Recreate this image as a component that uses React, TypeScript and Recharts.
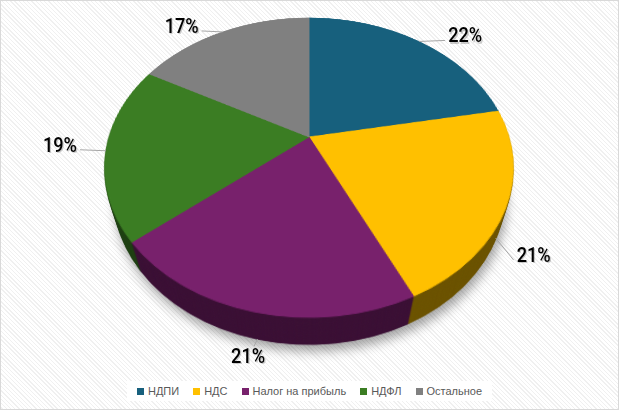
import { PieChart, Pie, Cell, Legend } from "recharts"

const categories = ["НДПИ", "НДС", "Налог на прибыль", "НДФЛ", "Остальное"]
const shares = [22, 21, 21, 19, 17]

const topColors = ["#17607d", "#ffc000", "#78216c", "#3b7d23", "#808080"]
const sideColors = ["#0b3040", "#6b5200", "#3a0f34", "#1d3f11", "#404040"]

const rows = categories.map((name, i) => ({ name, value: shares[i] }))

// fake 3D: pie layers tilted with a css perspective transform
const CX = 309
const CY = 137
const R = 200
const HALF = 220
const TILT = 44.15
const PERSP = 683
const DEPTH = 45
const LAYERS = 30
const LABEL_W = 34
const rad = Math.PI / 180

function project(r: number, phi: number, z: number) {
    const X = r * Math.sin(phi * rad)
    const Y = -r * Math.cos(phi * rad)
    const a = TILT * rad
    const yr = Y * Math.cos(a) - z * Math.sin(a)
    const zr = Y * Math.sin(a) + z * Math.cos(a)
    const s = PERSP / (PERSP - zr)
    return { x: CX + X * s, y: CY + yr * s }
}

function PieLayer({ z, colors, shadow }: { z: number; colors: string[]; shadow?: boolean }) {
    return (
        <div
            style={{
                position: "absolute",
                left: CX - HALF,
                top: CY - HALF,
                width: HALF * 2,
                height: HALF * 2,
                transformOrigin: `${HALF}px ${HALF}px`,
                transform: `perspective(${PERSP}px) rotateX(${TILT}deg) translateZ(${z}px)`,
                filter: shadow ? "drop-shadow(2px 6px 5px rgba(0,0,0,0.35))" : undefined,
            }}
        >
            <PieChart width={HALF * 2} height={HALF * 2} margin={{ top: 0, right: 0, bottom: 0, left: 0 }}>
                <Pie
                    data={rows}
                    dataKey="value"
                    nameKey="name"
                    cx={HALF}
                    cy={HALF}
                    outerRadius={R}
                    startAngle={90}
                    endAngle={-270}
                    isAnimationActive={false}
                >
                    {rows.map((r, i) => (
                        <Cell key={r.name} fill={colors[i]} stroke={colors[i]} strokeWidth={1} />
                    ))}
                </Pie>
            </PieChart>
        </div>
    )
}

const renderLabel = (props: any) => {
    const phi = 90 - props.midAngle
    const c = Math.cos(phi * rad)
    const s = Math.sin(phi * rad)
    const front = c < -0.3
    const z = front ? -DEPTH : 0
    const rim = project(R, phi, z)
    const side = s >= 0 ? 1 : -1
    const dx = side * (Math.min(46, Math.abs(s) * 80) - (front ? 8 : 0))
    const dy = front ? 17 : -6
    const tx = rim.x + dx
    const ty = rim.y + dy
    const beside = Math.abs(dx) > LABEL_W / 2 + 4
    const endX = beside ? tx - side * (LABEL_W / 2 + 3) : tx + 6
    const endY = beside ? ty + 5 : ty - 10
    const text = `${props.value}%`
    return (
        <g key={`lbl-${props.index}`}>
            <polyline
                points={`${rim.x},${rim.y} ${endX},${endY}`}
                fill="none"
                stroke="#a6a6a6"
                strokeWidth={1}
            />
            <text
                x={tx + 1.2}
                y={ty + 1.2}
                textAnchor="middle"
                dominantBaseline="central"
                fontFamily="Roboto, sans-serif"
                fontSize={21}
                fontWeight={500}
                textLength={LABEL_W}
                lengthAdjust="spacingAndGlyphs"
                fill="rgba(0,0,0,0.2)"
            >
                {text}
            </text>
            <text
                x={tx}
                y={ty}
                textAnchor="middle"
                dominantBaseline="central"
                fontFamily="Roboto, sans-serif"
                fontSize={21}
                fontWeight={500}
                textLength={LABEL_W}
                lengthAdjust="spacingAndGlyphs"
                fill="#000000"
            >
                {text}
            </text>
        </g>
    )
}

const renderLegend = (props: any) => {
    const payload = [...(props.payload || [])].sort(
        (a: any, b: any) => categories.indexOf(a.value) - categories.indexOf(b.value)
    )
    return (
        <div style={{ display: "flex", justifyContent: "center" }}>
            <div
                style={{
                    display: "flex",
                    gap: 14,
                    background: "#ffffff",
                    padding: "4px 10px",
                    fontFamily: '"Liberation Sans", Arial, sans-serif',
                    fontSize: 11,
                    color: "#595959",
                }}
            >
                {payload.map((p: any) => (
                    <div key={p.value} style={{ display: "flex", alignItems: "center" }}>
                        <span
                            style={{
                                display: "inline-block",
                                width: 7,
                                height: 7,
                                marginRight: 4,
                                background: p.color || topColors[categories.indexOf(p.value)],
                            }}
                        />
                        {p.value}
                    </div>
                ))}
            </div>
        </div>
    )
}

export default function App() {
    const layers = []
    for (let k = 0; k < LAYERS; k++) {
        const z = -DEPTH + (DEPTH * k) / LAYERS
        layers.push(<PieLayer key={k} z={z} colors={sideColors} shadow={k === 0} />)
    }

    return (
        <div
            style={{
                position: "absolute",
                left: 0,
                top: 0,
                width: 619,
                height: 410,
                overflow: "hidden",
                background:
                    "repeating-linear-gradient(45deg, #ffffff 0px, #ffffff 2px, #f0f0f0 2px, #f0f0f0 3px)",
            }}
        >
            {layers}
            <PieLayer z={0} colors={topColors} />
            <div style={{ position: "absolute", left: 0, top: 0 }}>
                <PieChart width={619} height={410} margin={{ top: 0, right: 0, bottom: 0, left: 0 }}>
                    <Pie
                        data={rows}
                        dataKey="value"
                        nameKey="name"
                        cx={CX}
                        cy={CY}
                        outerRadius={R}
                        startAngle={90}
                        endAngle={-270}
                        isAnimationActive={false}
                        stroke="none"
                        label={renderLabel}
                        labelLine={false}
                    >
                        {rows.map((r, i) => (
                            <Cell key={r.name} fill={topColors[i]} fillOpacity={0} />
                        ))}
                    </Pie>
                    <Legend verticalAlign="bottom" content={renderLegend} wrapperStyle={{ bottom: 9 }} />
                </PieChart>
            </div>
            <div
                style={{
                    position: "absolute",
                    left: 0,
                    top: 0,
                    width: 619,
                    height: 410,
                    boxSizing: "border-box",
                    border: "1px solid #d9d9d9",
                    pointerEvents: "none",
                }}
            />
        </div>
    )
}
